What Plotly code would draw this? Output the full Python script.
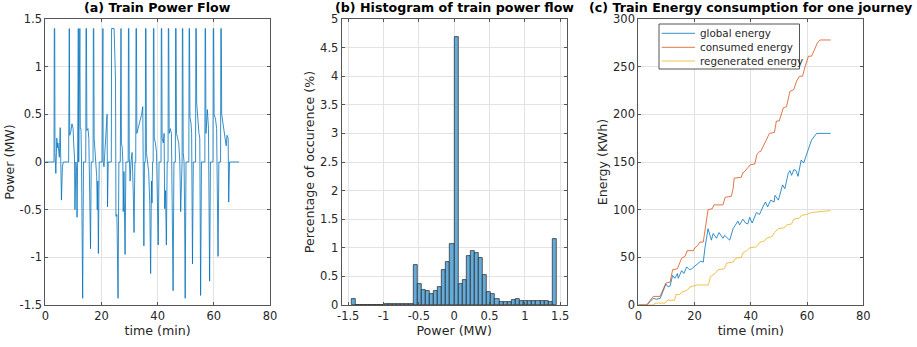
import plotly.graph_objects as go

W, H = 917, 347

# ---------------- (a) Train power flow (time in min, power in MW) ----------------
t_power = [0, 3.1, 3.2, 3.35, 3.45, 3.75, 4.1, 4.3, 4.5, 4.8, 5.0, 5.3, 5.5, 5.75, 6.1, 6.4, 8.3,
           8.4, 8.55, 8.7, 9.1, 9.5, 9.9, 10.1, 10.4, 10.55, 10.9, 11.15, 11.3, 11.5,
           11.75, 11.9, 12.3, 12.45, 12.7, 12.9, 13.05, 13.3, 13.6, 14.4,
           14.5, 14.65, 14.8, 15.2, 15.5, 15.8, 16.1, 16.35, 17.0,
           17.1, 17.25, 17.4, 17.8, 18.1, 18.3, 18.5, 18.7, 18.9, 19.2, 20.2,
           20.35, 20.5, 20.6, 20.9, 21.1, 21.4, 21.8, 22.0, 22.15, 22.4, 23.5,
           23.6, 24.5, 24.8, 25.0, 25.15, 25.5, 25.9, 26.2, 26.7,
           26.8, 26.95, 27.1, 27.4, 27.6, 27.75, 28.0, 28.4, 28.7, 29.5,
           29.6, 29.75, 29.9, 30.2, 30.5, 30.9, 31.3, 31.6, 31.9, 32.2,
           32.3, 32.45, 32.6, 33.2, 33.7, 34.3, 34.7, 34.85, 35.1, 35.3, 35.6,
           35.7, 35.85, 36.0, 36.4, 36.8, 37.2, 37.5, 37.8, 38.0, 38.2, 38.4,
           38.5, 38.65, 38.8, 39.2, 39.6, 39.9, 40.2, 40.5, 41.2,
           41.3, 41.45, 41.6, 42.0, 42.3, 42.5, 42.8, 43.1, 43.4, 43.7,
           43.8, 43.95, 44.1, 44.5, 44.9, 45.2, 45.5, 45.8, 46.3,
           46.4, 46.55, 46.7, 47.1, 47.5, 47.9, 48.2, 48.5, 48.7,
           48.8, 48.95, 49.1, 49.4, 49.6, 49.8, 50.1, 51.1,
           51.2, 51.35, 51.5, 51.9, 52.1, 52.25, 52.4, 52.7, 53.5,
           53.6, 53.75, 53.9, 54.3, 54.7, 55.0, 55.15, 55.3, 55.6, 56.8,
           56.9, 57.05, 57.2, 57.7, 58.1, 58.3, 58.5, 58.8, 59.7,
           59.8, 59.95, 60.1, 60.6, 61.0, 61.3, 61.5, 61.8, 62.4,
           62.5, 62.65, 62.8, 63.2, 63.7, 64.1, 64.4, 64.7, 65.1, 65.3, 65.6, 69.0]
p_power = [0, 0, 1.4, 1.4, 0.1, -0.12, 0.25, 0.15, 0.2, 0.05, 0.05, 0.36, 0.1, -0.4, -0.05, 0, 0,
           1.4, 1.4, 0.28, 0.32, 0.4, 0.35, 0.2, 0.05, -0.5, 0, -0.1, -0.58, 0,
           1.4, 0.0, 1.4, 0.35, 0.35, 0.0, -0.55, -1.43, 0, 0,
           1.4, 1.4, 0.33, 0.35, 0.25, -0.52, -0.91, 0, 0,
           1.4, 1.4, 0.25, 0.1, -0.1, -0.15, -0.5, -0.2, -0.96, 0, 0,
           1.4, 1.4, 0, -0.05, 0.05, 0.2, 0.3, 0.5, -0.47, 0, 0,
           1.4, 1.4, 1.0, 0.85, -0.57, -0.55, -1.43, 0, 0,
           1.4, 1.4, 0.2, 0.15, 0.0, -0.52, -0.1, -0.97, 0, 0,
           1.4, 1.4, 0.05, -0.2, 0, 0.1, -0.3, -0.74, 0, 0,
           1.4, 1.4, 0.3, 0.37, 0.42, 0.5, 0.58, -0.49, -0.88, 0, 0,
           1.4, 1.4, 0.1, 0.0, -0.1, -0.43, -1.17, -0.2, -0.43, 0, 0,
           1.4, 1.4, 0.25, 0.2, 0.1, -0.3, -0.87, 0, 0,
           1.4, 1.4, 0.25, 0.2, 0.3, -0.49, -0.3, -0.87, 0, 0,
           1.4, 1.4, 0.3, 0.35, 0.3, -0.52, -1.35, 0, 0,
           1.4, 1.4, 0.3, 0.25, 0.2, 0.0, -0.52, -0.2, 0,
           1.4, 1.4, 0.1, 0.0, -0.52, -1.43, 0, 0,
           1.4, 1.4, 0.47, 0.4, 0.3, -0.52, -1.07, 0, 0,
           1.4, 1.4, 0.62, 0.4, 0.3, 0.25, -0.52, -1.4, 0, 0,
           1.4, 1.4, 0.3, 0.55, 0.35, -0.5, -1.25, 0, 0,
           1.4, 1.4, 0.5, 0.45, 0.35, -0.52, -0.99, 0, 0,
           1.4, 1.4, 0.5, 0.42, 0.3, 0.25, 0.17, 0.28, 0.25, -0.42, 0, 0]

# ---------------- (b) Histogram (bin centres in MW, % of occurrence) ----------------
bin_width = 0.058
bin_centers = [-1.421, -1.363, -1.305, -1.247, -1.189, -1.131, -1.073, -1.015, -0.957, -0.899,
               -0.841, -0.783, -0.725, -0.667, -0.609, -0.551, -0.493, -0.435, -0.377, -0.319,
               -0.261, -0.203, -0.145, -0.087, -0.029, 0.029, 0.087, 0.145, 0.203, 0.261,
               0.319, 0.377, 0.435, 0.493, 0.551, 0.609, 0.667, 0.725, 0.783, 0.841,
               0.899, 0.957, 1.015, 1.073, 1.131, 1.189, 1.247, 1.305, 1.363, 1.421]
bin_pct = [0.10, 0.005, 0.005, 0.005, 0.005, 0.005, 0.008, 0.008, 0.01, 0.012,
           0.015, 0.015, 0.015, 0.018, 0.018, 0.70, 0.37, 0.27, 0.25, 0.20,
           0.24, 0.32, 0.61, 0.75, 1.07, 4.69, 0.37, 0.44, 0.85, 0.95,
           0.91, 0.82, 0.52, 0.22, 0.19, 0.10, 0.06, 0.06, 0.06, 0.085,
           0.11, 0.07, 0.065, 0.065, 0.065, 0.065, 0.065, 0.07, 0.06, 1.16]

# ---------------- (c) Energy (time in min, energy in kWh) ----------------
t_cons = [0, 3.0, 5.3, 7.7, 9.8, 11.3, 12.2, 13.9, 15.4, 16.6, 17.4, 19.6, 20.1, 21.0, 21.9, 23.1,
          24.8, 26.3, 26.9, 30.1, 30.9, 33.1, 33.7, 34.1, 36.6, 37.2, 37.5, 39.8, 41.4, 42.2, 43.1,
          43.5, 45.5, 45.9, 46.6, 48.4, 49.1, 50.1, 51.6, 52.7, 53.9, 55.3, 56.3, 57.3, 58.4,
          59.3, 59.9, 60.5, 61.6, 62.8, 63.7, 64.6, 68.4]
e_cons = [0, 0, 9, 9, 23, 24, 37, 38, 49, 51, 57, 57, 60, 62, 66, 66,
          100, 101, 105, 105, 113, 114, 122, 133, 134, 139, 139, 147, 148, 158, 161,
          161, 173, 175, 180, 181, 193, 193, 207, 208, 224, 226, 235, 240, 240,
          250, 255, 261, 261, 270, 275, 278, 278]

t_regen = [0, 5.5, 5.9, 9.5, 10.3, 12.9, 13.4, 14.6, 15.8, 17.2, 18.4, 19.9, 20.7, 24.9,
           25.7, 27.3, 28.4, 30.6, 31.4, 33.7, 34.6, 36.6, 37.3, 38.5, 39.7, 42.0, 43.3,
           44.8, 45.6, 47.6, 48.4, 49.8, 51.9, 52.7, 54.5, 55.3, 57.2, 58.0, 59.9, 61.6,
           64.6, 67.0, 68.4]
e_regen = [0, 0, 2, 2, 5, 5, 11, 11, 14, 15, 19, 20, 21, 21,
           30, 33, 37, 38, 44, 45, 49, 50, 55, 57, 60, 61, 66,
           67, 70, 72, 76, 80, 81, 84, 85, 90, 91, 94, 95, 97,
           98, 99, 99]

t_glob = [0, 3.0, 5.3, 6.4, 7.8, 8.8, 9.8, 10.6, 11.3, 12.2, 13.0, 13.9, 14.2, 15.4, 16.2, 17.2,
          18.2, 19.0, 20.2, 21.0, 22.2, 23.1, 23.7, 24.8, 25.6, 26.0, 26.6, 27.8, 28.7, 30.1,
          30.7, 32.5, 33.7, 34.8, 35.4, 36.0, 37.2, 38.1, 38.9, 39.6, 40.5, 42.0, 43.1, 44.3,
          45.2, 46.0, 47.1, 48.3, 48.6, 49.8, 51.3, 52.1, 53.3, 53.9, 54.5, 55.3, 56.1, 56.8,
          57.9, 58.8, 60.3, 60.9, 61.6, 63.4, 64.6, 68.4]
e_glob = [0, 0, 7, 6, 7, 15, 22, 19, 20, 31, 28, 33, 28, 36, 33, 40,
          37, 38, 41, 43, 46, 45, 60, 80, 72, 68, 75, 70, 76, 70,
          73, 68, 80, 85, 88, 84, 90, 86, 85, 92, 86, 97, 95, 103,
          108, 103, 110, 108, 115, 110, 126, 122, 138, 141, 136, 142, 141, 135,
          152, 149, 163, 166, 173, 180, 180, 180]

# tick labels (MATLAB-style hyphen minus)
pm_tickvals = [-1.5, -1, -0.5, 0, 0.5, 1, 1.5]
pm_ticktext = ["-1.5", "-1", "-0.5", "0", "0.5", "1", "1.5"]
legend_names = ["global energy", "consumed energy", "regenerated energy"]

BLUE = "rgb(0,114,189)"
ORANGE = "rgb(217,83,25)"
YELLOW = "rgb(237,177,32)"
FONT = "DejaVu Sans"
TXT = "#262626"

fig = go.Figure()
fig.add_trace(go.Scatter(x=t_power, y=p_power, mode="lines", line=dict(color=BLUE, width=0.8),
                         showlegend=False, xaxis="x", yaxis="y"))
fig.add_trace(go.Bar(x=bin_centers, y=bin_pct, width=bin_width,
                     marker=dict(color="rgb(102,170,215)", line=dict(color="rgba(20,20,20,0.8)", width=0.8)),
                     showlegend=False, xaxis="x2", yaxis="y2"))
energy_series = [(t_glob, e_glob, BLUE), (t_cons, e_cons, ORANGE), (t_regen, e_regen, YELLOW)]
for (tx, ey, col), nm in zip(energy_series, legend_names):
    fig.add_trace(go.Scatter(x=tx, y=ey, mode="lines", name=nm, showlegend=False,
                             line=dict(color=col, width=0.8), xaxis="x3", yaxis="y3"))


def px_x(p):
    return p / W


def px_y(p):
    return 1 - p / H


ydom = [px_y(305), px_y(19)]
ax_common = dict(showline=True, linecolor="#555555", linewidth=1, mirror="ticks",
                 ticks="inside", ticklen=3, tickcolor="#555555", automargin=False,
                 showgrid=True, gridcolor="#e3e3e3", gridwidth=1, zeroline=False,
                 tickfont=dict(family=FONT, size=11.5, color=TXT))
title_font = dict(family=FONT, size=12.65, color=TXT)

fig.update_layout(
    width=W, height=H, margin=dict(l=0, r=0, t=0, b=0, autoexpand=False),
    plot_bgcolor="white", paper_bgcolor="white", bargap=0, showlegend=False,
    font=dict(family=FONT, size=11.5, color=TXT),
    xaxis=dict(domain=[px_x(45.3), px_x(270)], range=[0, 80], dtick=20, anchor="y",
               ticklabelstandoff=0,
               title=dict(text="time (min)", font=title_font, standoff=4), **ax_common),
    yaxis=dict(domain=ydom, range=[-1.5, 1.5], tickvals=pm_tickvals, ticktext=pm_ticktext, anchor="x",
               title=dict(text="Power (MW)", font=title_font, standoff=2), **ax_common),
    xaxis2=dict(domain=[px_x(341.7), px_x(566.7)], range=[-1.592, 1.592],
                tickvals=pm_tickvals, ticktext=pm_ticktext, anchor="y2", ticklabelstandoff=0,
                title=dict(text="Power (MW)", font=title_font, standoff=4), **ax_common),
    yaxis2=dict(domain=ydom, range=[0, 5], dtick=0.5, anchor="x2",
                title=dict(text="Percentage of occurence (%)", font=title_font, standoff=2), **ax_common),
    xaxis3=dict(domain=[px_x(638.3), px_x(863.3)], range=[0, 80], dtick=20, anchor="y3",
                ticklabelstandoff=0,
                title=dict(text="time (min)", font=title_font, standoff=4), **ax_common),
    yaxis3=dict(domain=ydom, range=[0, 300], dtick=50, anchor="x3",
                title=dict(text="Energy (KWh)", font=title_font, standoff=2), **ax_common),
)

titles = [("(a) Train Power Flow", 157.7), ("(b) Histogram of train power flow", 454.2),
          ("(c) Train Energy consumption for one journey", 750.8)]
for txt, cx in titles:
    fig.add_annotation(text="<b>" + txt + "</b>", x=px_x(cx), y=px_y(8), xref="paper", yref="paper",
                       xanchor="center", yanchor="middle", showarrow=False,
                       font=dict(family=FONT, size=12.65, color="black"))

# legend box for panel (c), drawn in pixel positions
fig.add_shape(type="rect", xref="paper", yref="paper", x0=px_x(659), x1=px_x(799.5),
              y0=px_y(69), y1=px_y(24), line=dict(color="#555555", width=1), fillcolor="white",
              layer="above")
rows = [33.3, 47.3, 61.0]
for (tx, ey, col), nm, ry in zip(energy_series, legend_names, rows):
    fig.add_shape(type="line", xref="paper", yref="paper", x0=px_x(661.7), x1=px_x(695),
                  y0=px_y(ry), y1=px_y(ry), line=dict(color=col, width=0.8), layer="above")
    fig.add_annotation(text=nm, x=px_x(698), y=px_y(ry), xref="paper", yref="paper",
                       xanchor="left", yanchor="middle", showarrow=False,
                       font=dict(family=FONT, size=10.35, color=TXT))

fig.write_html("out.html")
